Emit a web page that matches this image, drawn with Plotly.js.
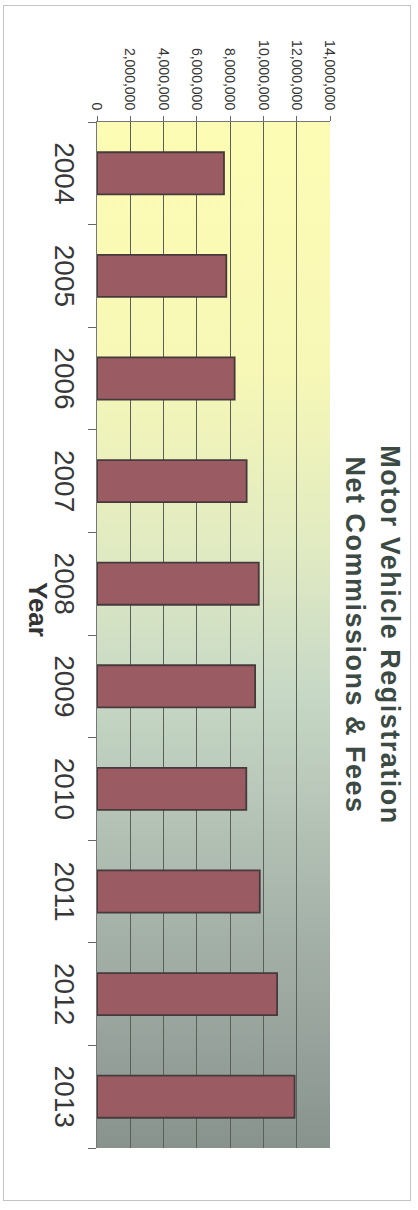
<!DOCTYPE html>
<html>
<head>
<meta charset="utf-8">
<script src="https://cdn.plot.ly/plotly-3.0.1.min.js"></script>
<style>
  html, body { margin:0; padding:0; background:#ffffff; width:418px; height:1210px; overflow:hidden; }
  #frame { position:absolute; left:3px; top:5px; width:406px; height:1194px; border:1px solid #c4c4c4; }
  #wrap { position:absolute; left:0; top:0; width:1210px; height:418px; transform-origin:0 0; transform:translate(418px,0) rotate(90deg); }
  #bg { position:absolute; left:122px; top:88px; width:1026px; height:233px;
        background:linear-gradient(to right, #fdfcb4 0%, #f7f8b6 24%, #e0eac2 42%, #c8d9c6 55%, #aab7ad 75%, #88938e 100%); }
  #chart { position:absolute; left:0; top:0; width:1210px; height:418px; }
  #chart .gtitle { letter-spacing: 1.5px; }
</style>
</head>
<body>
<div id="frame"></div>
<div id="wrap">
  <div id="bg"></div>
  <div id="chart"></div>
</div>
<script>
const years = ['2004','2005','2006','2007','2008','2009','2010','2011','2012','2013'];
const netCommissionsFees = [7630000, 7770000, 8270000, 8990000, 9720000, 9500000, 8970000, 9780000, 10820000, 11870000];
const valueTicks = [0, 2000000, 4000000, 6000000, 8000000, 10000000, 12000000, 14000000];

const FONT = 'Liberation Sans, Arial, sans-serif';

const data = [{
  type: 'bar',
  x: years,
  y: netCommissionsFees,
  marker: { color: '#9a5c62', line: { color: '#463a3c', width: 1.8 } },
  hoverinfo: 'none'
}];

const layout = {
  width: 1210,
  height: 418,
  margin: { l: 122, r: 62, t: 88, b: 97, pad: 0 },
  paper_bgcolor: 'rgba(0,0,0,0)',
  plot_bgcolor: 'rgba(0,0,0,0)',
  bargap: 0.59,
  showlegend: false,
  title: {
    text: '<b>Motor Vehicle Registration<br>Net Commissions & Fees</b>',
    font: { family: FONT, size: 27, color: '#3c4a44' },
    xref: 'paper', x: 0.5, xanchor: 'center',
    yref: 'container', y: 1 - 37/418, yanchor: 'middle'
  },
  xaxis: {
    type: 'category',
    tickson: 'boundaries',
    ticks: 'outside', ticklen: 8, tickcolor: '#666', tickwidth: 1,
    showline: true, linecolor: '#777', linewidth: 1,
    showgrid: false,
    tickfont: { family: FONT, size: 28, color: '#383838' },
    ticklabelstandoff: 7
  },
  yaxis: {
    range: [0, 14000000],
    tickvals: valueTicks,
    tickformat: ',d',
    ticks: 'outside', ticklen: 5, tickcolor: '#666',
    showline: true, linecolor: '#777', linewidth: 1,
    showgrid: true, gridcolor: '#5a5f5a', gridwidth: 1,
    zeroline: false,
    tickfont: { family: FONT, size: 14, color: '#333' },
    ticklabelstandoff: 3
  },
  annotations: [{
    text: '<b>Year</b>',
    xref: 'paper', x: 0.4756, xanchor: 'center',
    yref: 'paper', y: -59/233, yanchor: 'middle',
    showarrow: false,
    font: { family: FONT, size: 26, color: '#333' }
  }]
};

Plotly.newPlot('chart', data, layout, { staticPlot: true, displayModeBar: false });
</script>
</body>
</html>
